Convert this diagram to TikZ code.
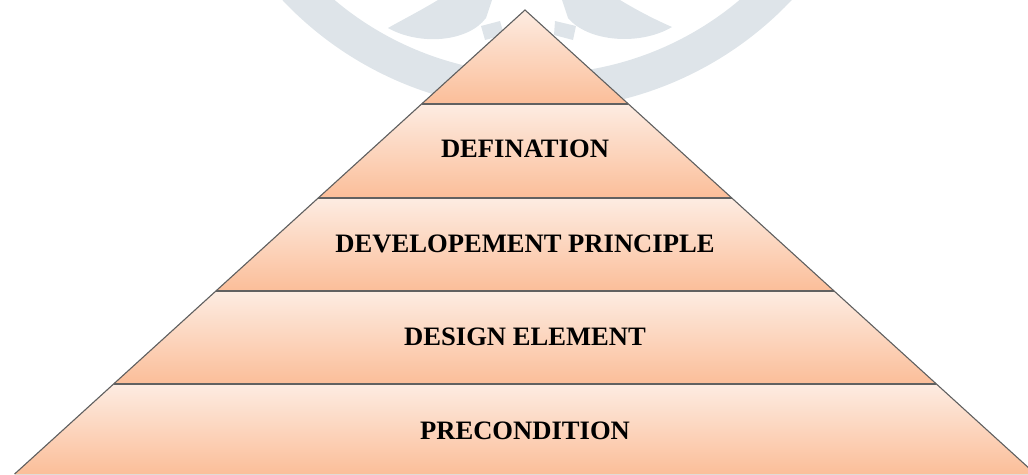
\documentclass[tikz,border=0pt]{standalone}
\usepackage{fontspec}
\setmainfont{Liberation Serif}
\definecolor{saumonclair}{RGB}{253,236,226}
\definecolor{saumon}{RGB}{251,190,153}
\definecolor{filigrane}{RGB}{222,228,233}
\tikzset{
  couche/.style={top color=saumonclair, bottom color=saumon},
  bord/.style={draw=black!62, line width=1.1pt},
  separation/.style={draw=black!62, line width=2pt},
  etiquette/.style={font=\bfseries\fontsize{26.6}{30}\selectfont}
}
\begin{document}
\begin{tikzpicture}[x=1pt,y=-1pt]
    \useasboundingbox (0,0) rectangle (1028,474);
    \clip (0,0) rectangle (1028,474);
    % filigrane
    \draw[filigrane, line width=36pt] (282.7,-26.6) arc (140:40:332);
    \fill[filigrane] (388,28) .. controls (420,46) and (468,42) .. (486,18)
      -- (492,0) -- (438,0) .. controls (418,12) and (402,20) .. cycle;
    \fill[filigrane] (481,26) -- (500,21) -- (504,35) -- (485,40) -- cycle;
    \fill[filigrane] (672,27) .. controls (640,46) and (588,42) .. (568,18)
      -- (562,0) -- (620,0) .. controls (640,12) and (656,20) .. cycle;
    \fill[filigrane] (555,21) -- (576,26) -- (573,40) -- (554,35) -- cycle;
    % sommet et aretes
    \path (525,10) coordinate (sommet);
    \path (421.6,104) coordinate (g1) (628.4,104) coordinate (d1);
    \path (318.2,198) coordinate (g2) (731.8,198) coordinate (d2);
    \path (215.9,291) coordinate (g3) (834.1,291) coordinate (d3);
    \path (113.6,384) coordinate (g4) (936.4,384) coordinate (d4);
    \path (14.6,474) coordinate (g5) (1035.4,474) coordinate (d5);
    % couches
    \fill[couche] (sommet) -- (d1) -- (g1) -- cycle;
    \fill[couche] (g1) -- (d1) -- (d2) -- (g2) -- cycle;
    \fill[couche] (g2) -- (d2) -- (d3) -- (g3) -- cycle;
    \fill[couche] (g3) -- (d3) -- (d4) -- (g4) -- cycle;
    \fill[couche] (g4) -- (d4) -- (d5) -- (g5) -- cycle;
    % contour
    \draw[bord] (g5) -- (sommet) -- (d5);
    \foreach \i in {1,...,4}
      \draw[separation] (g\i) -- (d\i);
    % textes
    \node[etiquette] (definition) at (525,149) {DEFINATION};
    \node[etiquette] (principe) at (525,244) {DEVELOPEMENT PRINCIPLE};
    \node[etiquette] (element) at (525,337) {DESIGN ELEMENT};
    \node[etiquette] (condition) at (525,431) {PRECONDITION};
\end{tikzpicture}
\end{document}
